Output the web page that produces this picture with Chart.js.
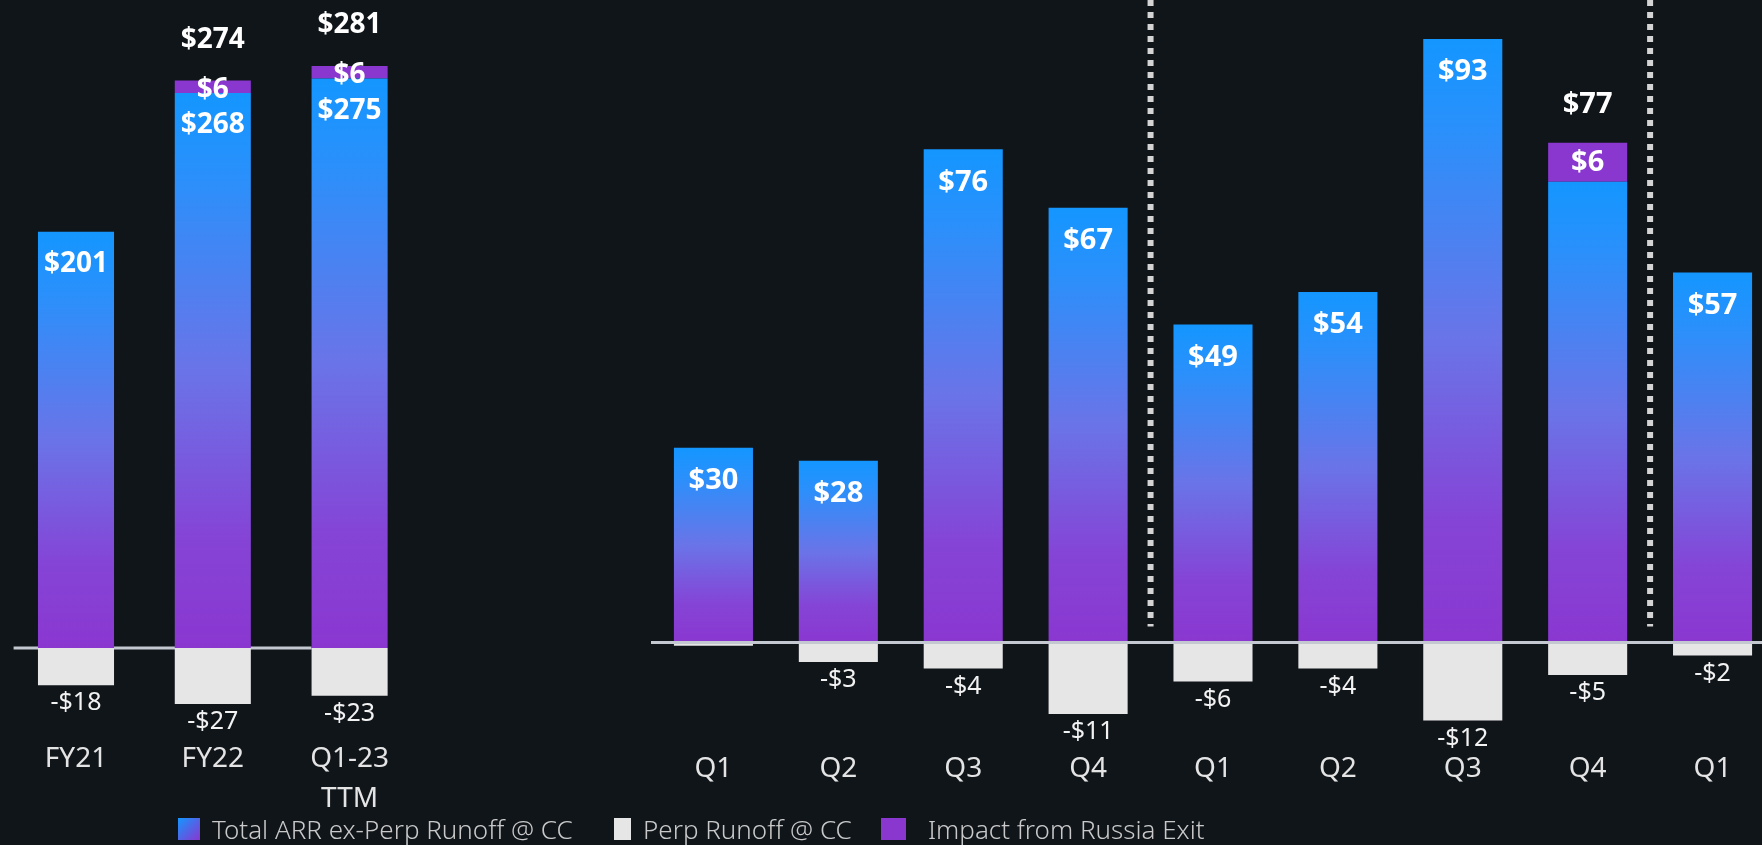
<!DOCTYPE html>
<html>
<head>
<meta charset="utf-8">
<title>ARR bridge</title>
<script src="https://cdn.jsdelivr.net/npm/chart.js@4.4.0/dist/chart.umd.min.js"></script>
<style>
    html, body { margin: 0; padding: 0; background: #10151a; overflow: hidden; }
    body { width: 1762px; height: 845px; position: relative; font-family: 'Noto Sans', sans-serif; }
    #annualChart { position: absolute; left: 0; top: 0; }
    #quarterChart { position: absolute; left: 651px; top: 0; }
    .legend-item { position: absolute; top: 815px; height: 28px; display: flex; align-items: center; color: #c9c9c9; font-size: 26px; font-weight: 300; white-space: nowrap; }
    .legend-item .swatch { width: 22px; height: 22px; margin-right: 12px; }
</style>
</head>
<body>
<canvas id="annualChart" width="418" height="845"></canvas>
<canvas id="quarterChart" width="1124" height="845"></canvas>
<div id="legend"></div>

<script>
// --- data ---
const seriesNames = ['Total ARR ex-Perp Runoff @ CC', 'Perp Runoff @ CC', 'Impact from Russia Exit'];

const annualLabels = [['FY21'], ['FY22'], ['Q1-23', 'TTM']];
const annualArr = [201, 268, 275];
const annualRussia = [0, 6, 6];
const annualPerp = [-18, -27, -23];

const quarterLabels = ['Q1', 'Q2', 'Q3', 'Q4', 'Q1', 'Q2', 'Q3', 'Q4', 'Q1'];
const quarterArr = [30, 28, 76, 67, 49, 54, 93, 71, 57];
const quarterRussia = [0, 0, 0, 0, 0, 0, 0, 6, 0];
const quarterPerp = [-0.5, -3, -4, -11, -6, -4, -12, -5, -2];
const yearStarts = [4, 8]; // index of first quarter of a new fiscal year

// --- colours ---
const BLUE = '#1496ff';
const PURPLE = '#8a37d0';
const RUNOFF = '#e6e6e6';

function arrGradient(context) {
    const chart = context.chart;
    if (!chart.chartArea) return BLUE;
    const y = chart.scales.y;
    const top = y.getPixelForValue(context.raw);
    const bottom = y.getPixelForValue(0);
    const g = chart.ctx.createLinearGradient(0, top, 0, bottom);
    g.addColorStop(0, '#1496ff');
    g.addColorStop(0.15, '#2a90fb');
    g.addColorStop(0.5, '#6a74e8');
    g.addColorStop(0.8, '#8544d6');
    g.addColorStop(1, '#8a37d0');
    return g;
}

// zero line (drawn under or over the bars)
const zeroLine = {
    id: 'zeroLine',
    beforeDatasetsDraw(chart, args, opts) { if (!opts.onTop) drawZero(chart, opts); },
    afterDatasetsDraw(chart, args, opts) { if (opts.onTop) drawZero(chart, opts); }
};
function drawZero(chart, opts) {
    const c = chart.ctx;
    const y0 = chart.scales.y.getPixelForValue(0);
    let right = chart.chartArea.right;
    if (opts.stopAtLastBar) {
        const bars = chart.getDatasetMeta(0).data;
        const last = bars[bars.length - 1];
        right = last.x - last.width / 2;
    }
    c.save();
    c.strokeStyle = '#c4c8d0';
    c.lineWidth = 3;
    c.beginPath();
    c.moveTo(chart.chartArea.left + (opts.inset || 0), y0);
    c.lineTo(right, y0);
    c.stroke();
    c.restore();
}

// dotted dividers between fiscal years
const yearDividers = {
    id: 'yearDividers',
    afterDatasetsDraw(chart, args, opts) {
        if (!opts.starts) return;
        const c = chart.ctx;
        const x = chart.scales.x;
        const y0 = chart.scales.y.getPixelForValue(0);
        c.save();
        c.strokeStyle = '#d4d4d4';
        c.lineWidth = 6;
        c.setLineDash([6, 6]);
        opts.starts.forEach(i => {
            const px = (x.getPixelForValue(i - 1) + x.getPixelForValue(i)) / 2;
            c.beginPath();
            c.moveTo(px, 0);
            c.lineTo(px, y0 - 16);
            c.stroke();
        });
        c.restore();
    }
};

// value labels
const valueLabels = {
    id: 'valueLabels',
    afterDatasetsDraw(chart, args, opts) {
        const c = chart.ctx;
        const ds = chart.data.datasets;
        const arrMeta = chart.getDatasetMeta(0);
        const perpMeta = chart.getDatasetMeta(1);
        const rusMeta = chart.getDatasetMeta(2);
        c.save();
        c.textAlign = 'center';
        c.textBaseline = 'middle';
        arrMeta.data.forEach((bar, i) => {
            const base = ds[0].data[i], perp = ds[1].data[i], rus = ds[2].data[i];
            c.fillStyle = '#ffffff';
            c.font = 'bold ' + opts.boldSize + 'px "Noto Sans"';
            if (!(rus > 0 && opts.hideBaseWithRussia)) {
                c.fillText('$' + base, bar.x, bar.y + opts.insideOffset);
            }
            if (rus > 0) {
                const seg = rusMeta.data[i];
                c.fillText('$' + rus, seg.x, (seg.y + seg.base) / 2 + opts.rusShift);
                c.fillText('$' + (base + rus), seg.x, seg.y - opts.totalGap);
            }
            if (Math.abs(perp) >= 1) {
                const nb = perpMeta.data[i];
                c.font = opts.negSize + 'px "Noto Sans"';
                c.fillStyle = '#f2f2f2';
                c.fillText('-$' + Math.abs(perp), nb.x, nb.y + opts.negGap);
            }
        });
        c.restore();
    }
};

function makeChart(id, labels, arr, perp, rus, cfg) {
    return new Chart(document.getElementById(id), {
        type: 'bar',
        data: {
            labels: labels,
            datasets: [
                { label: seriesNames[0], data: arr, backgroundColor: arrGradient, barPercentage: cfg.barPct, categoryPercentage: 1 },
                { label: seriesNames[1], data: perp, backgroundColor: RUNOFF, barPercentage: cfg.barPct, categoryPercentage: 1 },
                { label: seriesNames[2], data: rus, backgroundColor: PURPLE, barPercentage: cfg.barPct, categoryPercentage: 1 }
            ]
        },
        options: {
            responsive: false,
            animation: false,
            layout: { padding: { left: cfg.padLeft, right: 0, top: 10, bottom: 0 } },
            plugins: {
                legend: { display: false },
                tooltip: { enabled: false },
                zeroLine: cfg.zero,
                yearDividers: { starts: cfg.dividers },
                valueLabels: cfg.labels
            },
            scales: {
                x: {
                    stacked: true,
                    grid: { display: false, drawTicks: false },
                    border: { display: false },
                    ticks: {
                        color: '#e4e4e4',
                        padding: cfg.tickPad,
                        font: { family: 'Noto Sans', size: 28, lineHeight: 1.45 }
                    },
                    afterFit: scale => { scale.height = 115; }
                },
                y: {
                    stacked: true,
                    display: false,
                    min: cfg.yMin,
                    max: cfg.yMax
                }
            }
        },
        plugins: [zeroLine, yearDividers, valueLabels]
    });
}

makeChart('annualChart', annualLabels, annualArr, annualPerp, annualRussia, {
    barPct: 0.556, padLeft: 7.6, yMin: -39.6, yMax: 308.1, tickPad: 8.5,
    zero: { onTop: false, inset: 6, stopAtLastBar: true },
    dividers: null,
    labels: { boldSize: 28, negSize: 25, insideOffset: 32, rusShift: 3, totalGap: 41, negGap: 18, hideBaseWithRussia: false }
});

makeChart('quarterChart', quarterLabels, quarterArr, quarterPerp, quarterRussia, {
    barPct: 0.633, padLeft: 0, yMin: -13.48, yMax: 97.46, tickPad: 19,
    zero: { onTop: true, inset: 0, stopAtLastBar: false },
    dividers: yearStarts,
    labels: { boldSize: 29, negSize: 25, insideOffset: 33, rusShift: 0, totalGap: 38, negGap: 18, hideBaseWithRussia: true }
});

// --- legend ---
const legendSwatches = ['linear-gradient(135deg, #1496ff, #8a37d0)', RUNOFF, PURPLE];
const legendLeft = [178, 614, 881];
const legend = document.getElementById('legend');
seriesNames.forEach((name, i) => {
    const item = document.createElement('div');
    item.className = 'legend-item';
    item.style.left = legendLeft[i] + 'px';
    const sw = document.createElement('span');
    sw.className = 'swatch';
    sw.style.background = legendSwatches[i];
    if (i === 1) { sw.style.width = '17px'; }
    if (i === 2) { sw.style.width = '25px'; sw.style.marginRight = '22px'; }
    const tx = document.createElement('span');
    tx.textContent = name;
    item.appendChild(sw);
    item.appendChild(tx);
    legend.appendChild(item);
});
</script>
</body>
</html>
